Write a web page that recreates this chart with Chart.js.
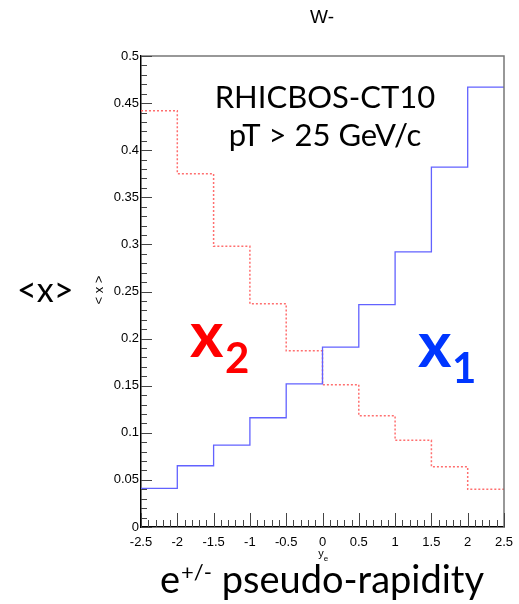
<!DOCTYPE html>
<html>
<head>
<meta charset="utf-8">
<title>W- mean x vs pseudo-rapidity</title>
<script src="https://cdn.jsdelivr.net/npm/chart.js@4/dist/chart.umd.min.js"></script>
<style>
  html, body { margin: 0; padding: 0; background: #fff; }
  #wrap { width: 519px; height: 604px; }
</style>
</head>
<body>
<div id="wrap"><canvas id="chart" width="519" height="604"></canvas></div>
<script>
// bin edges of the histogram (lepton pseudo-rapidity)
const binEdges = [-2.5, -2, -1.5, -1, -0.5, 0, 0.5, 1, 1.5, 2, 2.5];
// <x1> per bin (blue, solid)
const x1Values = [0.041, 0.065, 0.087, 0.116, 0.152, 0.191, 0.236, 0.292, 0.382, 0.467];
// <x2> per bin (red, dotted)
const x2Values = [0.442, 0.375, 0.298, 0.237, 0.187, 0.151, 0.118, 0.092, 0.064, 0.040];
// axis ranges / tick steps
const xRange = [-2.5, 2.5];
const yRange = [0, 0.5];
const xStep = 0.5;
const yStep = 0.05;

const TICK_FONT = 'Liberation Sans, Arial, sans-serif';
const LABEL_FONT = 'Lato, "Open Sans", sans-serif';

// histogram top: one point per left edge, plus the last right edge
function histPoints(values) {
  const pts = values.map((v, i) => ({ x: binEdges[i], y: v }));
  pts.push({ x: binEdges[binEdges.length - 1], y: values[values.length - 1] });
  return pts;
}

const fmt = v => String(+Number(v).toFixed(2));

// inward ROOT-style ticks, grey top/right frame and the free text
const decorations = {
  id: 'decorations',
  afterDraw(chart) {
    const { ctx, chartArea: a, scales: { x, y } } = chart;
    ctx.save();

    // frame
    ctx.strokeStyle = '#777';
    ctx.lineWidth = 1.5;
    ctx.beginPath();
    ctx.moveTo(a.left, a.top);
    ctx.lineTo(a.right, a.top);
    ctx.lineTo(a.right, a.bottom);
    ctx.stroke();

    // ticks
    ctx.strokeStyle = '#444';
    ctx.lineWidth = 1;
    ctx.beginPath();
    for (let i = 0; i <= 50; i++) {
      const v = yRange[0] + i * 0.01;
      const py = Math.round(y.getPixelForValue(v)) + 0.5;
      const len = i % 5 === 0 ? 11 : 6;
      ctx.moveTo(a.left, py);
      ctx.lineTo(a.left + len, py);
    }
    for (let i = 0; i <= 50; i++) {
      const v = xRange[0] + i * 0.1;
      const px = Math.round(x.getPixelForValue(v)) + 0.5;
      const len = i % 5 === 0 ? 14 : 7;
      ctx.moveTo(px, a.bottom);
      ctx.lineTo(px, a.bottom - len);
    }
    ctx.stroke();

    ctx.fillStyle = '#000';
    ctx.textBaseline = 'alphabetic';

    // title
    ctx.font = '19px ' + TICK_FONT;
    ctx.textAlign = 'center';
    ctx.fillText('W-', 322, 23);

    // generator / cut
    ctx.font = '31px ' + LABEL_FONT;
    ctx.fillText('RHICBOS-CT10', 325, 108);
    ctx.fillText('pT > 25 GeV/c', 325, 146);

    // axis titles (small, ROOT)
    ctx.font = '11px ' + TICK_FONT;
    ctx.fillText('y', 321, 557);
    ctx.font = '8px ' + TICK_FONT;
    ctx.fillText('e', 326, 561);
    ctx.save();
    ctx.translate(103, 290);
    ctx.rotate(-Math.PI / 2);
    ctx.font = '13px ' + TICK_FONT;
    ctx.fillText('< x >', 0, 0);
    ctx.restore();

    // axis titles (large)
    ctx.textAlign = 'left';
    ctx.font = '34px ' + LABEL_FONT;
    ctx.fillText('<x>', 17, 302);

    let cx = 160;
    ctx.font = '38px ' + LABEL_FONT;
    ctx.fillText('e', cx, 593);
    cx += ctx.measureText('e').width + 1;
    ctx.font = '22px ' + LABEL_FONT;
    ctx.fillText('+/-', cx, 580);
    cx += ctx.measureText('+/-').width;
    ctx.font = '38px ' + LABEL_FONT;
    ctx.fillText(' pseudo-rapidity', cx, 593);

    // x2 / x1 labels
    ctx.font = 'bold 64px ' + LABEL_FONT;
    ctx.fillStyle = '#ff0000';
    ctx.fillText('x', 190, 357);
    ctx.font = 'bold 42px ' + LABEL_FONT;
    ctx.fillText('2', 225, 373);

    ctx.font = 'bold 64px ' + LABEL_FONT;
    ctx.fillStyle = '#0036ff';
    ctx.fillText('x', 418, 367);
    ctx.font = 'bold 42px ' + LABEL_FONT;
    ctx.fillText('1', 452, 383);

    ctx.restore();
  }
};

new Chart(document.getElementById('chart'), {
  type: 'line',
  data: {
    datasets: [
      {
        label: 'x1',
        data: histPoints(x1Values),
        borderColor: '#6262ff',
        borderWidth: 1.3,
        stepped: true,
        pointRadius: 0,
        fill: false,
      },
      {
        label: 'x2',
        data: histPoints(x2Values),
        borderColor: '#ff6f6f',
        borderWidth: 1.5,
        borderDash: [2, 2],
        stepped: true,
        pointRadius: 0,
        fill: false,
      },
    ],
  },
  options: {
    responsive: false,
    animation: false,
    devicePixelRatio: 1,
    layout: { padding: { top: 56, right: 15, left: 0, bottom: 0 } },
    plugins: {
      legend: { display: false },
      tooltip: { enabled: false },
      title: { display: false },
    },
    scales: {
      x: {
        type: 'linear',
        min: xRange[0],
        max: xRange[1],
        grid: { display: false, drawTicks: false },
        border: { display: true, color: '#000', width: 1.5 },
        ticks: {
          stepSize: xStep,
          padding: 8,
          color: '#000',
          font: { family: TICK_FONT, size: 13 },
          maxRotation: 0,
          autoSkip: false,
          callback: fmt,
        },
        afterFit(scale) {
          scale.height = 77;
          scale.paddingLeft = 0;
          scale.paddingRight = 0;
        },
      },
      y: {
        min: yRange[0],
        max: yRange[1],
        grid: { display: false, drawTicks: false },
        border: { display: true, color: '#000', width: 1.5 },
        ticks: {
          stepSize: yStep,
          padding: 2,
          color: '#000',
          font: { family: TICK_FONT, size: 13 },
          autoSkip: false,
          callback: fmt,
        },
        afterFit(scale) {
          scale.width = 141;
          scale.paddingTop = 0;
          scale.paddingBottom = 0;
        },
      },
    },
  },
  plugins: [decorations],
});
</script>
</body>
</html>
